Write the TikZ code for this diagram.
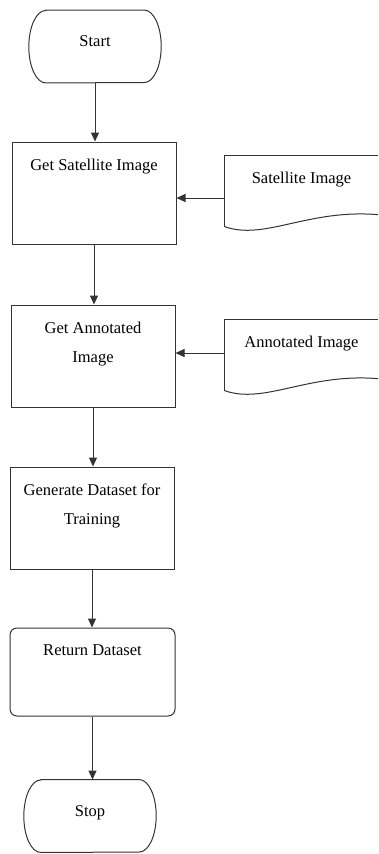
\documentclass[tikz,border=0pt]{standalone}
\usepackage{fontspec}
\setmainfont{Liberation Serif}
\usetikzlibrary{arrows.meta}

% outline of a start/stop terminal with elliptic ends
\newcommand\termoutline[1]{%
  \draw[line] ([xshift=17pt]#1.north west) -- ([xshift=-17pt]#1.north east)
    arc[start angle=90,end angle=-90,x radius=17pt,y radius=36.25pt]
    -- ([xshift=17pt]#1.south west)
    arc[start angle=270,end angle=90,x radius=17pt,y radius=36.25pt] -- cycle;}
% outline of a document symbol, right side cut by the page
\newcommand\docoutline[1]{%
  \draw[line] (#1.south west) -- (#1.north west) -- (#1.north east);
  \draw[line] (#1.south west) .. controls ([xshift=40pt,yshift=-14pt]#1.south west)
    and ([xshift=-70pt,yshift=18pt]#1.south east) .. ([yshift=12pt]#1.south east);}

\begin{document}
\begin{tikzpicture}[x=1pt,y=-1pt,
    line/.style={draw=black!80, line width=1pt},
    arr/.style={line, -{Triangle[length=9pt,width=8pt]}},
    term/.style={minimum width=132pt, minimum height=72.5pt, inner sep=0pt,
      text height=12pt, text depth=12pt},
    proc/.style={line, minimum width=164pt, minimum height=102pt},
    docbox/.style={minimum width=153pt, minimum height=71pt},
    intext/.style={anchor=north, align=center, inner sep=0pt, yshift=-17pt},
    font=\fontsize{16.5}{29}\selectfont]

  \useasboundingbox (0,0) rectangle (378,854);

  % main column
  \node[term] (start) at (95,46.5) {Start};
  \node[proc, label={[intext]north:Get Satellite Image}] (sat) at (94,193) {};
  \node[proc, label={[intext]north:Get Annotated\\Image}] (ann) at (93,356) {};
  \node[proc, label={[intext]north:Generate Dataset for\\Training}] (gen) at (92,518) {};
  \node[proc, rounded corners=7pt, minimum width=165pt, minimum height=88pt,
    label={[intext]north:Return Dataset}] (ret) at (92.5,672) {};
  \node[term] (stop) at (90,816) {Stop};
  \termoutline{start}
  \termoutline{stop}

  % input documents
  \node[docbox, label={[intext]north:Satellite Image}] (satdoc) at (301.5,191) {};
  \node[docbox, label={[intext]north:Annotated Image}] (anndoc) at (301.5,355) {};
  \docoutline{satdoc}
  \docoutline{anndoc}

  % flow
  \draw[arr] (start.south) -- (start.south |- sat.north);
  \draw[arr] (sat.south) -- (sat.south |- ann.north);
  \draw[arr] (ann.south) -- (ann.south |- gen.north);
  \draw[arr] (gen.south) -- (gen.south |- ret.north);
  \draw[arr] (ret.south) -- (ret.south |- stop.north);
  \draw[arr] ([yshift=-7pt]satdoc.west) -- ([yshift=-7pt]sat.east |- satdoc.west);
  \draw[arr] ([yshift=2pt]anndoc.west) -- ([yshift=2pt]ann.east |- anndoc.west);
\end{tikzpicture}
\end{document}
